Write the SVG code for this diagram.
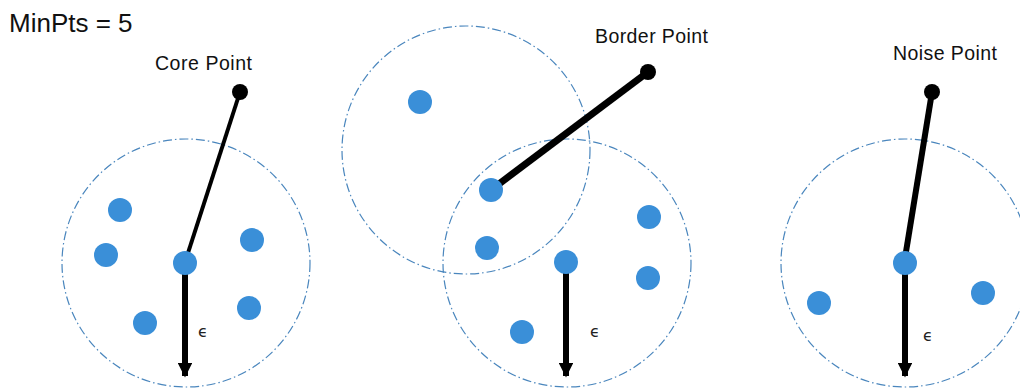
<svg xmlns="http://www.w3.org/2000/svg" width="1020" height="391" viewBox="0 0 1020 391">
<style>
.rng{fill:none;stroke:#4a86bd;stroke-width:1.2;stroke-dasharray:9 3 1.5 3}
.pt{fill:#3a8fd8}
.lbl{font-family:"Liberation Sans",Arial,sans-serif;font-size:19.5px;fill:#111}
.eps{font-family:"DejaVu Sans","Liberation Sans",sans-serif;font-size:16px;fill:#222}
.shaft{stroke:#000;stroke-width:6}
</style>
<defs>
<marker id="ah" viewBox="0 0 10 10" refX="9" refY="5" markerWidth="2.6" markerHeight="2.4" markerUnits="strokeWidth" orient="auto">
<path d="M0,0 L10,5 L0,10 z" fill="#000"/>
</marker>
</defs>
<rect width="1020" height="391" fill="#fff"/>
<text x="9" y="32" font-family="Liberation Sans,Arial,sans-serif" font-size="26" fill="#111">MinPts = 5</text>

<g id="core-group">
<circle class="rng" cx="186" cy="263" r="124"/>
<circle class="pt" cx="120" cy="210" r="12"/>
<circle class="pt" cx="106" cy="255" r="12"/>
<circle class="pt" cx="252" cy="240" r="12"/>
<circle class="pt" cx="145" cy="323" r="12"/>
<circle class="pt" cx="249" cy="308" r="12"/>
</g>

<g id="border-upper">
<circle class="rng" cx="466" cy="150" r="124"/>
<circle class="pt" cx="420" cy="102" r="12"/>
</g>

<g id="border-lower">
<circle class="rng" cx="567" cy="263" r="124"/>
<circle class="pt" cx="487" cy="248" r="12"/>
<circle class="pt" cx="649" cy="217" r="12"/>
<circle class="pt" cx="648" cy="278" r="12"/>
<circle class="pt" cx="522" cy="332" r="12"/>
</g>

<g id="noise-group">
<circle class="rng" cx="905" cy="263" r="124"/>
<circle class="pt" cx="819" cy="303" r="12"/>
<circle class="pt" cx="983" cy="293" r="12"/>
</g>

<g id="connectors">
<line x1="240" y1="92" x2="187" y2="256" stroke="#000" stroke-width="4"/>
<line x1="648" y1="72" x2="491" y2="190" stroke="#000" stroke-width="7"/>
<line x1="932" y1="92" x2="905" y2="258" stroke="#000" stroke-width="6"/>
<line class="shaft" x1="185" y1="268" x2="185" y2="376" marker-end="url(#ah)"/>
<line class="shaft" x1="566" y1="268" x2="566" y2="376" marker-end="url(#ah)"/>
<line class="shaft" x1="905" y1="268" x2="905" y2="376" marker-end="url(#ah)"/>
</g>

<g id="core-point">
<circle cx="240" cy="92" r="8" fill="#000"/>
<circle class="pt" cx="185" cy="263" r="12"/>
<text class="lbl" x="155" y="70" textLength="97" lengthAdjust="spacing">Core Point</text>
<text class="eps" x="198" y="337">ϵ</text>
</g>

<g id="border-point">
<circle cx="648" cy="72" r="8" fill="#000"/>
<circle class="pt" cx="491" cy="190" r="12"/>
<circle class="pt" cx="566" cy="262" r="12"/>
<text class="lbl" x="595" y="43" textLength="113" lengthAdjust="spacing">Border Point</text>
<text class="eps" x="590" y="337">ϵ</text>
</g>

<g id="noise-point">
<circle cx="932" cy="92" r="8" fill="#000"/>
<circle class="pt" cx="905" cy="263" r="12"/>
<text class="lbl" x="893" y="60" textLength="104" lengthAdjust="spacing">Noise Point</text>
<text class="eps" x="923" y="341">ϵ</text>
</g>
</svg>
